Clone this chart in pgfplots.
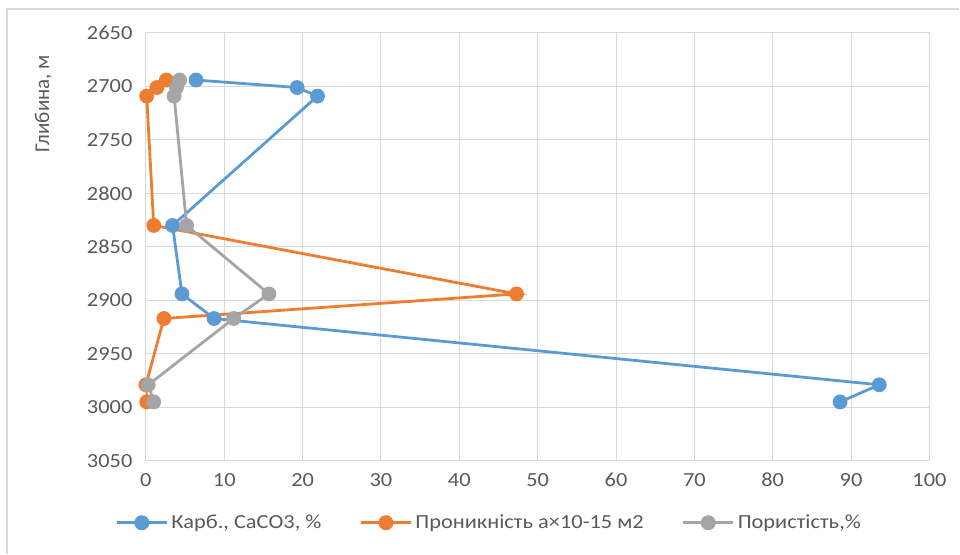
\documentclass[border=0pt]{standalone}
\usepackage{pgfplots}
\pgfplotsset{compat=1.18}
\usepackage{fontspec}
\setmainfont{Carlito}
\definecolor{cblue}{RGB}{91,155,213}
\definecolor{corange}{RGB}{237,125,49}
\definecolor{cgray}{RGB}{165,165,165}
\definecolor{txt}{RGB}{89,89,89}
\definecolor{gridc}{RGB}{217,217,217}
\newcommand{\wide}[1]{\scalebox{1.12}[1]{#1}}
\begin{document}
\begin{tikzpicture}
\path (0pt,0pt) rectangle (960pt,-554pt);
\draw[gridc,line width=1.2pt] (7pt,-554pt) -- (7pt,-9pt) -- (960pt,-9pt);
\begin{axis}[
  at={(146pt,-461pt)}, anchor=south west,
  scale only axis, width=784pt, height=428pt,
  xmin=0, xmax=100, ymin=2650, ymax=3050,
  y dir=reverse,
  xtick={0,10,...,100}, ytick={2650,2700,...,3050},
  grid=major, major grid style={gridc,line width=1pt},
  axis line style={gridc,line width=1pt},
  major tick length=0pt,
  ticklabel style={font=\fontsize{20}{24}\selectfont, text=txt},
  /pgf/number format/assume math mode=true,
  /pgf/number format/1000 sep={},
  xticklabel={\wide{\pgfmathprintnumber{\tick}}},
  yticklabel={\wide{\pgfmathprintnumber{\tick}}},
  xticklabel style={yshift=-9pt},
  yticklabel style={xshift=-10pt},
  ylabel={Глибина, м},
  ylabel style={font=\fontsize{21}{24}\selectfont, text=txt, at={(axis description cs:-0.131,0.835)}, anchor=center},
  legend columns=3,
  legend style={draw=none, fill=none, font=\fontsize{20}{24}\selectfont, text=txt,
    at={(axis description cs:0.438,-0.145)}, anchor=center,
    nodes={inner sep=2pt},
    /tikz/every odd column/.append style={column sep=1pt},
    /tikz/every even column/.append style={column sep=36pt}},
  every legend image post/.append style={line width=3pt},
  legend image code/.code={%
    \draw[mark repeat=2,mark phase=2,#1] plot coordinates {(0pt,0pt) (25pt,0pt) (50pt,0pt)};},
  every axis plot/.append style={line width=2.8pt, mark=*, mark size=6pt, mark options={solid}},
]
\addplot[color=cblue] coordinates {
(6.4,2694) (19.3,2701) (21.9,2709) (3.4,2830) (4.6,2894) (8.7,2917) (93.6,2979) (88.6,2995)};
\addlegendentry{\wide{Карб., СаСО3, \%}}
\addplot[color=corange] coordinates {
(2.6,2694) (1.4,2701) (0.1,2709) (1.0,2830) (47.3,2894) (2.3,2917) (0,2979) (0.1,2995)};
\addlegendentry{\wide{Проникність а×10-15 м2}}
\addplot[color=cgray] coordinates {
(4.3,2694) (3.9,2701) (3.6,2709) (5.2,2830) (15.7,2894) (11.2,2917) (0.3,2979) (1.0,2995)};
\addlegendentry{\wide{Пористість,\%}}
\end{axis}
\end{tikzpicture}
\end{document}
